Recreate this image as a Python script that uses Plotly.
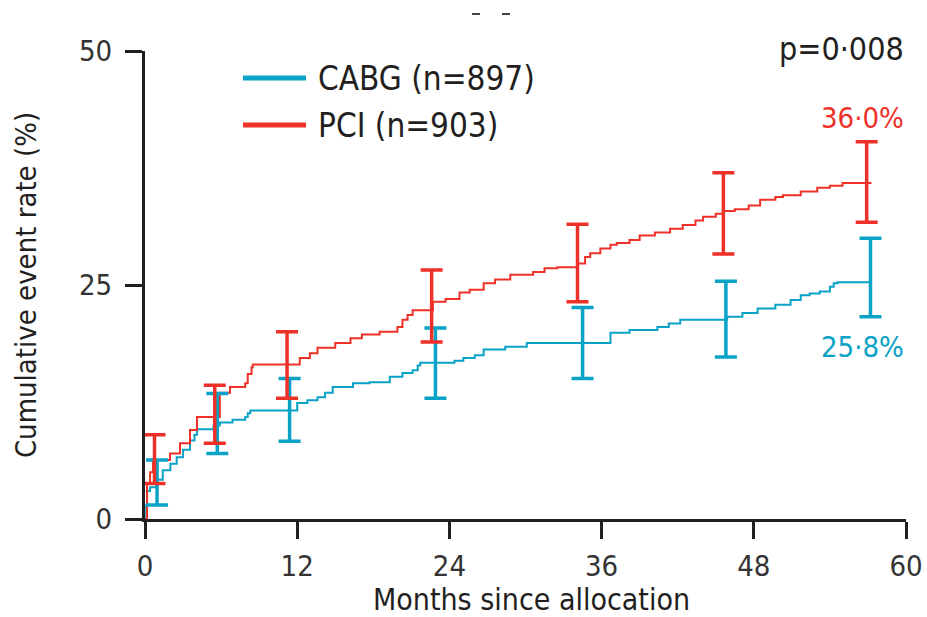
import plotly.graph_objects as go

# ---- data ----
pci_months = [0, 0.16, 0.4, 0.63, 1.97, 2.76, 3.55, 4.1, 5.9, 6.7, 7.9, 8.1, 8.4, 8.5,
              12.2, 13.0, 13.6, 15.0, 16.2, 17.1, 18.5, 19.9, 20.3, 20.7, 21.1, 22.7, 23.7,
              24.8, 25.6, 26.7, 27.6, 28.8, 30.6, 31.5, 32.5, 34.1, 34.7, 35.1, 35.9, 36.7,
              37.2, 38.2, 39.0, 40.2, 41.4, 42.4, 43.4, 44.0, 45.0, 45.6, 46.5, 47.6, 48.5,
              49.7, 50.3, 51.7, 53.0, 54.0, 55.0, 57.2]
pci_rate = [0, 3.8, 5.0, 6.3, 7.0, 8.1, 9.5, 10.9, 13.5, 14.1, 14.5, 15.5, 16.2, 16.5,
            17.2, 17.7, 18.3, 18.8, 19.3, 19.7, 20.0, 20.5, 21.3, 21.8, 22.3, 23.2, 23.5,
            24.2, 24.5, 25.2, 25.6, 26.1, 26.4, 26.8, 26.9, 27.3, 28.0, 28.4, 28.9, 29.3,
            29.5, 29.8, 30.3, 30.6, 31.0, 31.4, 31.9, 32.3, 32.6, 32.9, 33.1, 33.5, 34.1,
            34.4, 34.6, 35.0, 35.4, 35.6, 35.9, 36.0]

cabg_months = [0, 0.1, 0.16, 0.4, 0.95, 1.4, 2.0, 2.5, 3.0, 3.55, 3.9, 4.1, 5.4, 5.9, 6.9,
               7.9, 8.1, 8.3, 12.0, 12.8, 13.6, 14.2, 14.8, 16.4, 17.7, 19.3, 20.3, 21.1,
               21.5, 21.7, 24.4, 25.1, 26.0, 26.7, 28.4, 30.1, 36.7, 38.2, 40.4, 41.3, 42.2,
               45.9, 47.1, 48.3, 49.7, 50.9, 51.7, 52.4, 53.2, 54.0, 54.3, 54.6, 57.2]
cabg_rate = [0, 1.5, 3.0, 3.4, 4.2, 5.2, 5.9, 6.6, 7.4, 8.4, 9.0, 9.6, 10.0, 10.3, 10.6,
             10.9, 11.3, 11.6, 12.4, 12.7, 13.0, 13.5, 14.1, 14.5, 14.6, 15.2, 15.6, 15.9,
             16.4, 16.7, 16.9, 17.2, 17.5, 18.1, 18.4, 18.8, 19.9, 20.2, 20.5, 20.9, 21.3,
             21.6, 22.0, 22.5, 22.9, 23.4, 23.9, 24.1, 24.3, 24.8, 25.2, 25.3, 25.3]

# 95% CI bars
pci_ci_months = [0.75, 5.5, 11.2, 22.6, 34.1, 45.6, 56.9]
pci_ci_upper = [9.0, 14.3, 20.0, 26.6, 31.5, 37.0, 40.3]
pci_ci_lower = [3.8, 8.1, 12.9, 18.9, 23.2, 28.3, 31.7]
cabg_ci_months = [0.95, 5.7, 11.4, 22.9, 34.5, 45.8, 57.2]
cabg_ci_upper = [6.3, 13.4, 15.0, 20.4, 22.6, 25.4, 30.0]
cabg_ci_lower = [1.5, 7.0, 8.3, 12.9, 15.0, 17.3, 21.6]

series_names = ["CABG (n=897)", "PCI (n=903)"]
end_labels = ["25·8%", "36·0%"]
p_text = "p=0·008"
x_title = "Months since allocation"
y_title = "Cumulative event rate (%)"
x_ticks = [0, 12, 24, 36, 48, 60]
y_ticks = [0, 25, 50]

BLUE = "#0aa2c6"
RED = "#ee3128"
INK = "#231f20"
FONT = "Liberation Sans Narrow, DejaVu Sans Condensed, Arial Narrow, sans-serif"

# plot-area geometry (page body margin removed below)
L, T, PW, PH = 145, 51, 761, 468
W, H = 927, 617

def px(xr):   # reference pixel x -> paper
    return (xr - L) / PW

def py(yr):   # reference pixel y -> paper
    return (T + PH - yr) / PH

fig = go.Figure()

def ci_trace(months, lo, hi, color):
    mid = [(a + b) / 2 for a, b in zip(lo, hi)]
    return go.Scatter(
        x=months, y=mid, mode="markers",
        marker=dict(size=1, color="rgba(0,0,0,0)"),
        error_y=dict(type="data", symmetric=False,
                     array=[h - m for h, m in zip(hi, mid)],
                     arrayminus=[m - l for m, l in zip(mid, lo)],
                     color=color, thickness=3.5, width=11),
        showlegend=False, hoverinfo="skip", cliponaxis=False)

fig.add_trace(go.Scatter(x=cabg_months, y=cabg_rate, mode="lines", line_shape="hv",
                         line=dict(color=BLUE, width=2), name=series_names[0], showlegend=False))
fig.add_trace(go.Scatter(x=pci_months, y=pci_rate, mode="lines", line_shape="hv",
                         line=dict(color=RED, width=2), name=series_names[1], showlegend=False))
fig.add_trace(ci_trace(cabg_ci_months, cabg_ci_lower, cabg_ci_upper, BLUE))
fig.add_trace(ci_trace(pci_ci_months, pci_ci_lower, pci_ci_upper, RED))

# manual legend
for yr, col, name in [(78, BLUE, series_names[0]), (125, RED, series_names[1])]:
    fig.add_shape(type="line", xref="paper", yref="paper", x0=px(243), x1=px(306),
                  y0=py(yr), y1=py(yr), line=dict(color=col, width=5))
    fig.add_annotation(xref="paper", yref="paper", x=px(316), y=py(yr), xanchor="left",
                       yanchor="middle", text=name, showarrow=False,
                       font=dict(family=FONT, size=33, color=INK))

fig.add_annotation(xref="paper", yref="paper", x=px(906), y=py(49), xanchor="right", yanchor="middle",
                   text=p_text, showarrow=False, font=dict(family=FONT, size=32, color=INK))
fig.add_annotation(xref="paper", yref="paper", x=px(906), y=py(118), xanchor="right", yanchor="middle",
                   text=end_labels[1], showarrow=False, font=dict(family=FONT, size=29, color=RED))
fig.add_annotation(xref="paper", yref="paper", x=px(906), y=py(347), xanchor="right", yanchor="middle",
                   text=end_labels[0], showarrow=False, font=dict(family=FONT, size=29, color=BLUE))
# x-axis title
fig.add_annotation(xref="paper", yref="paper", x=px(531), y=py(599), xanchor="center", yanchor="middle",
                   text=x_title, showarrow=False, font=dict(family=FONT, size=30, color=INK))
# cropped fragments at the top of the reference
for xv in [476, 506]:
    fig.add_shape(type="line", xref="paper", yref="paper",
                  x0=px(xv - 4), x1=px(xv + 4), y0=py(14), y1=py(14),
                  line=dict(color="#444", width=2))

axis_common = dict(showgrid=False, zeroline=False, showline=True, linecolor=INK, linewidth=3,
                   ticks="outside", ticklen=17, tickwidth=3, tickcolor=INK, automargin=False,
                   ticklabeloverflow="allow",
                   tickfont=dict(family=FONT, size=29, color="#333"))

fig.update_layout(
    width=W, height=H,
    margin=dict(l=L, r=W - L - PW, t=T, b=H - T - PH, autoexpand=False),
    paper_bgcolor="white", plot_bgcolor="white",
    showlegend=False,
    xaxis=dict(range=[0, 60], tickvals=x_ticks, ticktext=[str(v) for v in x_ticks],
               ticklabelstandoff=2, **axis_common),
    yaxis=dict(range=[0, 50], tickvals=y_ticks, ticktext=[str(v) for v in y_ticks],
               ticklabelstandoff=7,
               title=dict(text=y_title, standoff=34,
                          font=dict(family=FONT, size=29, color=INK)),
               **axis_common),
)

fig.write_html("out.html", config={"displayModeBar": False},
               post_script="document.body.style.margin='0';document.body.style.overflow='hidden';")
